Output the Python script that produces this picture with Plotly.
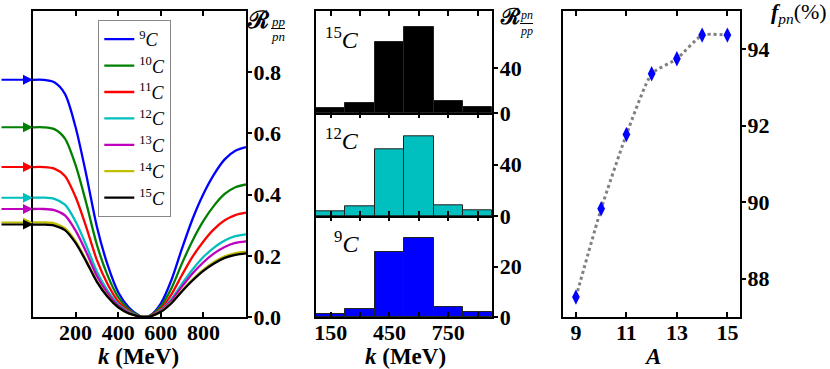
import plotly.graph_objects as go

# ── data ─────────────────────────────────────────────────────────────────────
k_mev = [0, 50, 100, 150, 200, 250, 300, 350, 400, 450, 500, 520,
         550, 600, 650, 700, 750, 800, 850, 900, 950, 1000]

r_9c = [.775, .775, .767, .729, .620, .465, .295, .171, .081, .031, .004, 0,
        .005, .044, .121, .225, .322, .402, .466, .515, .543, .555]
r_10c = [.62, .62, .614, .583, .496, .372, .236, .136, .065, .025, .003, 0,
         .004, .035, .094, .176, .251, .314, .364, .402, .424, .433]
r_11c = [.49, .49, .485, .461, .392, .294, .186, .108, .051, .020, .002, 0,
         .003, .027, .074, .138, .198, .247, .287, .316, .333, .341]
r_12c = [.39, .39, .386, .367, .312, .234, .148, .086, .041, .016, .002, 0,
         .002, .022, .059, .109, .156, .196, .227, .250, .264, .270]
r_13c = [.353, .353, .349, .332, .282, .212, .134, .078, .037, .014, .002, 0,
         .002, .020, .054, .100, .143, .179, .208, .229, .242, .247]
r_14c = [.309, .309, .306, .290, .247, .185, .117, .068, .032, .012, .002, 0,
         .002, .017, .047, .087, .124, .155, .180, .198, .209, .214]
r_15c = [.302, .302, .299, .284, .242, .181, .115, .066, .032, .012, .002, 0,
         .002, .017, .045, .084, .120, .151, .175, .193, .203, .208]

isotopes = ["9", "10", "11", "12", "13", "14", "15"]
curves = [r_9c, r_10c, r_11c, r_12c, r_13c, r_14c, r_15c]
colors = ["#0000FF", "#008000", "#FF0000", "#00BFBF", "#BF00BF", "#BFBF00", "#000000"]

bin_centers = [150, 300, 450, 600, 750, 900]
hist_15c = [4.4, 9.3, 62.3, 75.5, 11.1, 5.8]
hist_12c = [3.9, 7.8, 52.0, 62.4, 8.5, 4.7]
hist_9c = [1.3, 3.3, 25.9, 31.1, 3.8, 1.8]

mass_a = [9, 10, 11, 12, 13, 14, 15]
f_pn = [87.52, 89.83, 91.77, 93.36, 93.75, 94.37, 94.37]

# ── layout helpers ───────────────────────────────────────────────────────────
SERIF = "Liberation Serif"
TICKFONT = dict(family=SERIF, size=22, color="black", weight="bold")
L, T, B = 33, 11, 52
W, H = 830, 369
PW, PH = W - L, H - T - B


def px(x, y):
    """pixel -> paper coords"""
    return (x - L) / PW, (H - B - y) / PH


def frame(**kw):
    base = dict(showline=True, linecolor="black", linewidth=2, showgrid=False,
                zeroline=False, tickfont=TICKFONT, tickcolor="black",
                tickwidth=1.5, ticklen=5, automargin=False)
    base.update(kw)
    return base


def xax(**kw):
    return frame(ticks="inside", mirror="ticks", ticklabelstandoff=-5, **kw)


def yax(**kw):
    return frame(side="right", ticks="outside", ticklen=4, mirror=True,
                 ticklabelstandoff=-3, **kw)


fig = go.Figure()

# ── 1. ratio curves ──────────────────────────────────────────────────────────
for iso, vals, col in zip(isotopes, curves, colors):
    fig.add_trace(go.Scatter(
        x=k_mev, y=vals, mode="lines", name=f"<sup>{iso}</sup><i>C</i>",
        line=dict(color=col, width=2.3, shape="spline", smoothing=0.8),
        xaxis="x", yaxis="y",
    ))
    fig.add_annotation(x=0, y=vals[0], xref="x", yref="y", text="",
                       showarrow=True, ax=-34, ay=0, arrowhead=2, arrowsize=1,
                       arrowwidth=2, arrowcolor=col, standoff=0)

# ── 2. histograms ────────────────────────────────────────────────────────────
for vals, col, xa, ya in [(hist_9c, "#0000FF", "x2", "y2"),
                          (hist_12c, "#00BFBF", "x3", "y3"),
                          (hist_15c, "#000000", "x4", "y4")]:
    fig.add_trace(go.Bar(
        x=bin_centers, y=vals, width=150, marker=dict(color=col, line=dict(color="#222", width=1)),
        xaxis=xa, yaxis=ya, showlegend=False,
    ))

# ── 3. f_pn vs A ─────────────────────────────────────────────────────────────
fig.add_trace(go.Scatter(
    x=mass_a, y=f_pn, mode="lines+markers", showlegend=False,
    line=dict(color="#808080", width=3, dash="dot", shape="spline", smoothing=0.5),
    marker=dict(symbol="diamond-tall", size=11, color="#0000FF"),
    xaxis="x5", yaxis="y5",
))

left_dom = [0, 213 / PW]
mid_dom = [(316 - L) / PW, (492.3 - L) / PW]
right_dom = [(563.3 - L) / PW, (740 - L) / PW]
y_bot = [0, (H - B - 216) / PH]
y_mid = [(H - B - 216) / PH, (H - B - 113.3) / PH]
y_top = [(H - B - 113.3) / PH, 1]

fig.update_layout(
    width=W, height=H, margin=dict(l=L, r=0, t=T, b=B, autoexpand=False),
    paper_bgcolor="white", plot_bgcolor="white",
    bargap=0,
    xaxis=xax(domain=left_dom, range=[0, 1000], tickvals=[200, 400, 600, 800], anchor="y"),
    yaxis=yax(domain=[0, 1], range=[0, 1.0], anchor="x",
              tickvals=[0, .2, .4, .6, .8], ticktext=["0.0", "0.2", "0.4", "0.6", "0.8"]),
    xaxis2=xax(domain=mid_dom, range=[75, 975], anchor="y2",
               tickvals=bin_centers, ticktext=["150", "", "450", "", "750", ""]),
    yaxis2=yax(domain=y_bot, range=[0, 40], anchor="x2", tickvals=[0, 20]),
    xaxis3=xax(domain=mid_dom, range=[75, 975], anchor="y3", tickvals=bin_centers,
               showticklabels=False),
    yaxis3=yax(domain=y_mid, range=[0, 80], anchor="x3", tickvals=[0, 40]),
    xaxis4=xax(domain=mid_dom, range=[75, 975], anchor="y4", tickvals=bin_centers,
               showticklabels=False),
    yaxis4=yax(domain=y_top, range=[0, 90], anchor="x4", tickvals=[0, 40]),
    xaxis5=xax(domain=right_dom, range=[8.5, 15.5], anchor="y5", tickvals=[9, 11, 13, 15]),
    yaxis5=yax(domain=[0, 1], range=[87, 95], anchor="x5", tickvals=[88, 90, 92, 94]),
    legend=dict(x=px(98.3, 0)[0], y=px(0, 20)[1], xanchor="left", yanchor="top",
                bgcolor="white", bordercolor="#888", borderwidth=1,
                font=dict(family=SERIF, size=18, color="black"), itemwidth=30),
)

# ── text labels ──────────────────────────────────────────────────────────────
def label(x, y, text, size, xanchor="center", **kw):
    xp, yp = px(x, y)
    fig.add_annotation(x=xp, y=yp, xref="paper", yref="paper", text=text,
                       showarrow=False, xanchor=xanchor, yanchor="middle",
                       font=dict(family=SERIF, size=size, color="black"), **kw)


def frac_line(x0, x1, y):
    a, b = px(x0, y)
    c, _ = px(x1, y)
    fig.add_shape(type="line", xref="paper", yref="paper", x0=a, x1=c, y0=b, y1=b,
                  line=dict(color="black", width=1))


# axis titles
label(138, 356, "<b><i>k</i> (MeV)</b>", 23)
label(405, 356, "<b><i>k</i> (MeV)</b>", 23)
label(652, 356, "<b><i>A</i></b>", 23)

# R_pp/pn (left) and R_pn/pp (middle)
label(258, 20, "<b>ℛ</b>", 24)
label(278, 21, "<i>pp</i>", 13)
frac_line(271, 285, 28.5)
label(278, 36, "<i>pn</i>", 13)

label(510, 16, "<b>ℛ</b>", 22)
label(526, 15.5, "<i>pn</i>", 12)
frac_line(520, 533, 23.5)
label(526, 31, "<i>pp</i>", 12)

label(829, 13, "<b><i>f</i></b><sub><i>pn</i></sub>(%)", 22, xanchor="right")

label(342, 38, "<sup>15</sup><i>C</i>", 24)
label(342, 139, "<sup>12</sup><i>C</i>", 24)
label(346, 242, "<sup>9</sup><i>C</i>", 24)

# page body has a default 8px margin; drop it so the figure sits at the corner
fig.write_html("out.html", config={"displayModeBar": False},
               post_script="document.body.style.margin='0';")
